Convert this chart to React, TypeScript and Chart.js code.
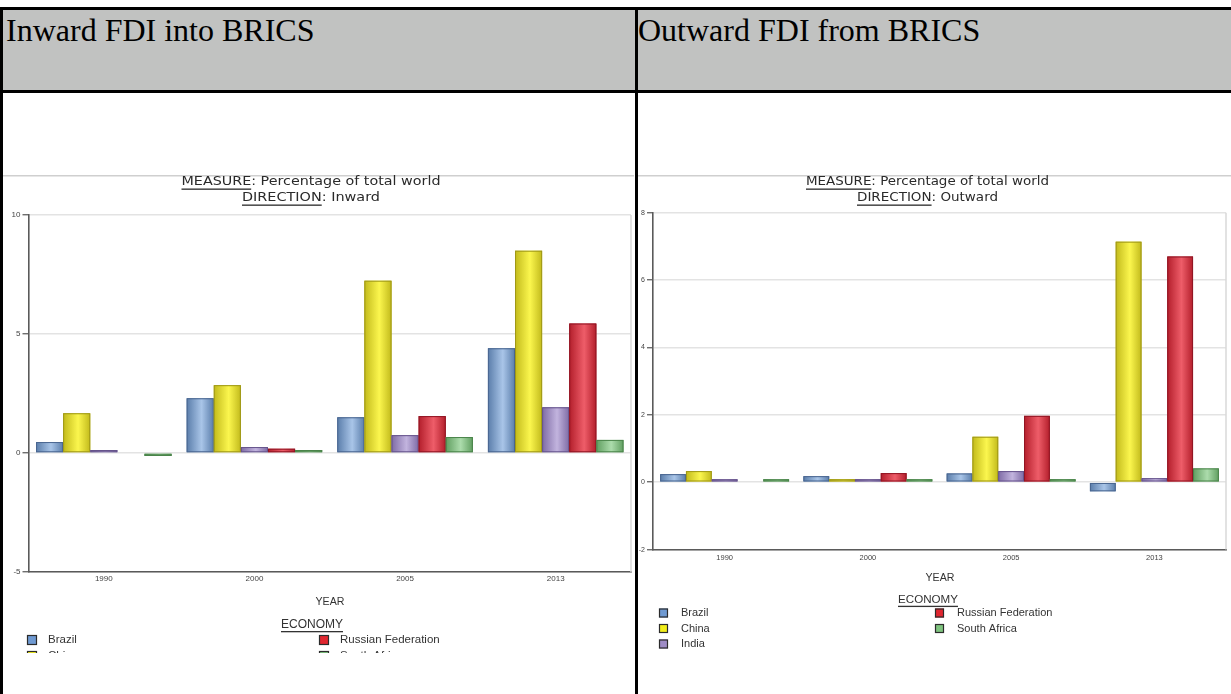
import React, { useEffect, useRef } from "react";
import { Chart, registerables } from "chart.js";

Chart.register(...registerables);

// ---- data ----------------------------------------------------------------
const YEARS = ["1990", "2000", "2005", "2013"];
const ECONOMIES = ["Brazil", "China", "India", "Russian Federation", "South Africa"];

// Inward FDI, percentage of total world
const INWARD_BRAZIL = [0.46, 2.3, 1.5, 4.4];
const INWARD_CHINA = [1.67, 2.85, 7.24, 8.5];
const INWARD_INDIA = [0.1, 0.25, 0.75, 1.92];
const INWARD_RUSSIA = [null, 0.18, 1.55, 5.44];
const INWARD_SOUTH_AFRICA = [-0.1, 0.05, 0.67, 0.55];

// Outward FDI, percentage of total world
const OUTWARD_BRAZIL = [0.24, 0.18, 0.26, -0.27];
const OUTWARD_CHINA = [0.33, 0.05, 1.35, 7.14];
const OUTWARD_INDIA = [0.05, 0.04, 0.33, 0.12];
const OUTWARD_RUSSIA = [null, 0.27, 1.97, 6.7];
const OUTWARD_SOUTH_AFRICA = [0.04, 0.04, 0.09, 0.41];

const INWARD_TICKS = [-5, 0, 5, 10];
const OUTWARD_TICKS = [-2, 0, 2, 4, 6, 8];

// ---- styling -------------------------------------------------------------
const PALETTE = [
  { base: "#7c9fcb", light: "#a9c5e8", dark: "#5a7daa", edge: "#4a6690", swatch: "#6f9ad2" },
  { base: "#e6df22", light: "#fbf64e", dark: "#c2ba1b", edge: "#9f9818", swatch: "#f2ee1a" },
  { base: "#a08cc4", light: "#c2b4de", dark: "#7e6ba5", edge: "#66548c", swatch: "#9f8cc6" },
  { base: "#d8323f", light: "#ee5d69", dark: "#b31e2b", edge: "#911624", swatch: "#e0262f" },
  { base: "#86c286", light: "#acdcac", dark: "#609e60", edge: "#4a844a", swatch: "#7fc47f" },
];

const SANS = "'Liberation Sans', Arial, sans-serif";
const VERDANA = "'DejaVu Sans', Verdana, sans-serif";

type Seg = { text: string; underline?: boolean };

// Draws a line of text centred on cx and stretched to a given width.
function drawFitted(
  ctx: CanvasRenderingContext2D,
  segs: Seg[],
  cx: number,
  cy: number,
  targetW: number,
  size: number,
  family: string,
  color: string
) {
  ctx.save();
  ctx.font = `${size}px ${family}`;
  const widths = segs.map((s) => ctx.measureText(s.text).width);
  const total = widths.reduce((a, b) => a + b, 0);
  const sx = targetW / total;
  ctx.translate(cx - targetW / 2, cy);
  ctx.scale(sx, 1);
  ctx.textAlign = "left";
  ctx.textBaseline = "middle";
  ctx.fillStyle = color;
  let x = 0;
  segs.forEach((s, i) => {
    ctx.fillText(s.text, x, 0);
    if (s.underline) ctx.fillRect(x, size * 0.5, widths[i], 1.3);
    x += widths[i];
  });
  ctx.restore();
}

const cylinderShading = {
  id: "cylinderShading",
  afterDatasetsDraw(chart: any) {
    const { ctx } = chart;
    chart.data.datasets.forEach((ds: any, di: number) => {
      const meta = chart.getDatasetMeta(di);
      if (meta.hidden) return;
      const pal = PALETTE[di];
      meta.data.forEach((el: any, i: number) => {
        const v = ds.data[i];
        if (v === null || v === undefined) return;
        const { x, y, base, width } = el.getProps(["x", "y", "base", "width"], true);
        const left = x - width / 2;
        const top = Math.min(y, base);
        const h = Math.max(Math.abs(base - y), 1);
        const g = ctx.createLinearGradient(left, 0, left + width, 0);
        g.addColorStop(0, pal.dark);
        g.addColorStop(0.55, pal.light);
        g.addColorStop(1, pal.dark);
        ctx.save();
        ctx.fillStyle = g;
        ctx.fillRect(left, top, width, h);
        ctx.strokeStyle = pal.edge;
        ctx.lineWidth = 1;
        ctx.strokeRect(left + 0.5, top + 0.5, width - 1, Math.max(h - 1, 0));
        ctx.restore();
      });
    });
  },
};

type Spec = {
  x: number;
  y: number;
  w: number;
  h: number;
  area: { left: number; right: number; top: number; bottom: number };
  ticks: number[];
  series: (number | null)[][];
  direction: string;
  yFont: number;
  xFont: number;
  xPad: number;
  title: { cx: number; y1: number; w1: number; y2: number; w2: number; size: number };
  axisTitle: { cx: number; y: number; w: number; size: number };
  legendTitle: { cx: number; y: number; w: number; size: number };
  legend: { cols: number[]; labelOffset: number; rows: number[]; box: number; size: number };
};

function decorations(spec: Spec) {
  return {
    id: "decorations",
    afterDraw(chart: any) {
      const ctx: CanvasRenderingContext2D = chart.ctx;
      const a = chart.chartArea;
      ctx.save();
      // frame of the chart picture
      ctx.fillStyle = "#cfcfcf";
      ctx.fillRect(0, 0, spec.w, 1.5);
      // right edge of the plot area
      ctx.strokeStyle = "#d9d9d9";
      ctx.lineWidth = 1.5;
      ctx.beginPath();
      ctx.moveTo(a.right, a.top);
      ctx.lineTo(a.right, a.bottom);
      ctx.stroke();
      ctx.restore();

      const t = spec.title;
      drawFitted(
        ctx,
        [{ text: "MEASURE", underline: true }, { text: ": Percentage of total world" }],
        t.cx, t.y1, t.w1, t.size, VERDANA, "#2a2a2a"
      );
      drawFitted(
        ctx,
        [{ text: "DIRECTION", underline: true }, { text: ": " + spec.direction }],
        t.cx, t.y2, t.w2, t.size, VERDANA, "#2a2a2a"
      );
      const at = spec.axisTitle;
      drawFitted(ctx, [{ text: "YEAR" }], at.cx, at.y, at.w, at.size, SANS, "#333");
      const lt = spec.legendTitle;
      drawFitted(ctx, [{ text: "ECONOMY", underline: true }], lt.cx, lt.y, lt.w, lt.size, SANS, "#333");

      const lg = spec.legend;
      ctx.save();
      ctx.font = `${lg.size}px ${SANS}`;
      ctx.textBaseline = "middle";
      ctx.textAlign = "left";
      chart.data.datasets.forEach((ds: any, i: number) => {
        const col = Math.floor(i / 3);
        const row = i % 3;
        const bx = lg.cols[col];
        const by = lg.rows[row];
        ctx.fillStyle = PALETTE[i].swatch;
        ctx.fillRect(bx, by - lg.box / 2, lg.box, lg.box);
        ctx.strokeStyle = "#2b2b2b";
        ctx.lineWidth = 1.2;
        ctx.strokeRect(bx + 0.5, by - lg.box / 2 + 0.5, lg.box - 1, lg.box - 1);
        ctx.fillStyle = "#333";
        ctx.fillText(ds.label, bx + lg.labelOffset, by);
      });
      ctx.restore();
    },
  };
}

function buildConfig(spec: Spec): any {
  const ticks = spec.ticks;
  return {
    type: "bar",
    data: {
      labels: YEARS,
      datasets: ECONOMIES.map((name, i) => ({
        label: name,
        data: spec.series[i],
        backgroundColor: PALETTE[i].base,
        borderColor: PALETTE[i].edge,
        borderWidth: 1,
        categoryPercentage: 0.9,
        barPercentage: 1,
        minBarLength: 3,
      })),
    },
    options: {
      animation: false,
      responsive: false,
      maintainAspectRatio: false,
      layout: {
        padding: { left: 0, top: spec.area.top, right: spec.w - spec.area.right, bottom: 0 },
      },
      plugins: {
        legend: { display: false },
        title: { display: false },
        tooltip: { enabled: false },
      },
      scales: {
        x: {
          grid: { display: false, drawTicks: false },
          border: { display: true, color: "#5a5a5a", width: 1.6 },
          ticks: {
            color: "#444",
            font: { family: SANS, size: spec.xFont },
            padding: spec.xPad,
            maxRotation: 0,
          },
          afterFit: (s: any) => {
            s.height = spec.h - spec.area.bottom;
          },
        },
        y: {
          min: ticks[0],
          max: ticks[ticks.length - 1],
          ticks: {
            stepSize: ticks[1] - ticks[0],
            color: "#444",
            font: { family: SANS, size: spec.yFont },
            padding: 2,
          },
          grid: {
            color: "#e3e3e3",
            lineWidth: 1.5,
            tickColor: "#555",
            tickLength: 6,
            tickWidth: 1.2,
            drawTicks: true,
          },
          border: { display: true, color: "#5a5a5a", width: 1.6 },
          afterFit: (s: any) => {
            s.width = spec.area.left;
          },
        },
      },
    },
    plugins: [cylinderShading, decorations(spec)],
  };
}

const INWARD_SPEC: Spec = {
  x: 3,
  y: 175,
  w: 631,
  h: 478,
  area: { left: 25.5, right: 628, top: 40, bottom: 397 },
  ticks: INWARD_TICKS,
  series: [INWARD_BRAZIL, INWARD_CHINA, INWARD_INDIA, INWARD_RUSSIA, INWARD_SOUTH_AFRICA],
  direction: "Inward",
  yFont: 8,
  xFont: 8,
  xPad: 2,
  title: { cx: 308, y1: 7, w1: 259, y2: 23, w2: 138, size: 13 },
  axisTitle: { cx: 327, y: 427, w: 29, size: 11 },
  legendTitle: { cx: 309, y: 450, w: 62, size: 12 },
  legend: { cols: [24, 316], labelOffset: 21, rows: [465, 481, 497], box: 10, size: 11.5 },
};

const OUTWARD_SPEC: Spec = {
  x: 638,
  y: 175,
  w: 593,
  h: 478,
  area: { left: 15, right: 588, top: 37.7, bottom: 374.6 },
  ticks: OUTWARD_TICKS,
  series: [OUTWARD_BRAZIL, OUTWARD_CHINA, OUTWARD_INDIA, OUTWARD_RUSSIA, OUTWARD_SOUTH_AFRICA],
  direction: "Outward",
  yFont: 7,
  xFont: 7.5,
  xPad: 4,
  title: { cx: 289.5, y1: 7, w1: 243, y2: 23, w2: 141, size: 13 },
  axisTitle: { cx: 302, y: 403, w: 29, size: 11 },
  legendTitle: { cx: 290, y: 425, w: 60, size: 11.5 },
  legend: { cols: [21, 297], labelOffset: 22, rows: [438, 453.5, 469], box: 9, size: 11 },
};

function FdiChart({ spec }: { spec: Spec }) {
  const ref = useRef<HTMLCanvasElement | null>(null);
  useEffect(() => {
    if (!ref.current) return;
    const chart = new Chart(ref.current, buildConfig(spec));
    return () => chart.destroy();
  }, [spec]);
  return (
    <canvas
      ref={ref}
      width={spec.w}
      height={spec.h}
      style={{ position: "absolute", left: spec.x, top: spec.y, width: spec.w, height: spec.h }}
    />
  );
}

const black = "#000";

const headerText: React.CSSProperties = {
  position: "absolute",
  top: 12,
  fontFamily: "'Liberation Serif', 'Times New Roman', serif",
  fontSize: 32,
  lineHeight: "normal",
  color: "#000",
  whiteSpace: "nowrap",
};

export default function App() {
  return (
    <div
      style={{
        position: "fixed",
        left: 0,
        top: 0,
        width: 1231,
        height: 694,
        background: "#fff",
        overflow: "hidden",
      }}
    >
      {/* header row */}
      <div style={{ position: "absolute", left: 0, top: 10, width: 1231, height: 80, background: "#c1c2c1" }} />
      <div style={{ ...headerText, left: 6 }}>Inward FDI into BRICS</div>
      <div style={{ ...headerText, left: 638 }}>Outward FDI from BRICS</div>

      {/* charts */}
      <FdiChart spec={INWARD_SPEC} />
      <FdiChart spec={OUTWARD_SPEC} />

      {/* table rules */}
      <div style={{ position: "absolute", left: 0, top: 7, width: 1231, height: 3, background: black }} />
      <div style={{ position: "absolute", left: 0, top: 90, width: 1231, height: 3, background: black }} />
      <div style={{ position: "absolute", left: 0, top: 7, width: 3, height: 687, background: black }} />
      <div style={{ position: "absolute", left: 635, top: 7, width: 3, height: 687, background: black }} />
    </div>
  );
}
